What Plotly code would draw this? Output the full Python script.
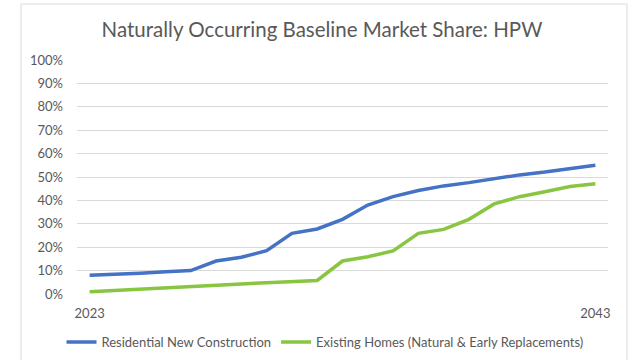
import plotly.graph_objects as go

# Projection years and market share (fraction of units) for each segment
years = list(range(2023, 2044))
new_construction = [0.080, 0.083, 0.089, 0.095, 0.100, 0.141, 0.157, 0.185, 0.259, 0.278,
                    0.319, 0.380, 0.416, 0.442, 0.462, 0.476, 0.493, 0.509, 0.521, 0.536, 0.550]
existing_homes = [0.010, 0.016, 0.021, 0.028, 0.034, 0.040, 0.043, 0.048, 0.054, 0.058,
                  0.141, 0.159, 0.184, 0.259, 0.276, 0.319, 0.385, 0.416, 0.437, 0.459, 0.471]
series_names = ["Residential New Construction", "Existing Homes (Natural & Early Replacements)"]
y_ticks = [i / 10 for i in range(11)]
x_ticks = [2023, 2043]

W, H = 633, 360
L, R, T, B = 77, 25, 60, 66
pw, ph = W - L - R, H - T - B

def px_x(p):
    return (p - L) / pw

def px_y(p):
    return (H - B - p) / ph

text_color = "#595959"
font_family = "Lato, 'Open Sans', sans-serif"

fig = go.Figure()
fig.add_trace(go.Scatter(x=years, y=new_construction, name=series_names[0], mode="lines",
                         line=dict(color="#4472C4", width=3.5)))
fig.add_trace(go.Scatter(x=years, y=existing_homes, name=series_names[1], mode="lines",
                         line=dict(color="#88C540", width=3.5)))

fig.update_layout(
    width=W, height=H, autosize=False,
    margin=dict(l=L, r=R, t=T, b=B, autoexpand=False),
    paper_bgcolor="white", plot_bgcolor="white",
    font=dict(family=font_family, color=text_color, size=13),
    title=dict(text="Naturally Occurring Baseline Market Share: HPW",
               x=322 / W, xanchor="center", xref="container",
               y=1 - 30 / H, yanchor="middle", yref="container",
               font=dict(size=20.5, color=text_color, family=font_family)),
    showlegend=True,
    legend=dict(orientation="h", x=px_x(325), xanchor="center", xref="paper",
                y=px_y(342), yanchor="middle",
                font=dict(size=13, color=text_color),
                bgcolor="rgba(0,0,0,0)", itemwidth=30, tracegroupgap=0),
    xaxis=dict(range=[2022.5, 2043.5], tickvals=x_ticks, ticktext=[str(v) for v in x_ticks],
               showgrid=False, zeroline=False, showline=False, ticks="",
               ticklabelstandoff=10, tickfont=dict(size=13, color=text_color)),
    yaxis=dict(range=[0, 1], tickvals=y_ticks, tickformat=".0%",
               showgrid=True, gridcolor="#D9D9D9", gridwidth=1,
               zeroline=False, showline=False, ticks="",
               ticklabelstandoff=13, tickfont=dict(size=13, color=text_color)),
)

# Chart area border
fig.add_shape(type="rect", xref="paper", yref="paper",
              x0=px_x(21), x1=px_x(627), y0=px_y(372), y1=px_y(4),
              line=dict(color="#D9D9D9", width=1), fillcolor="rgba(0,0,0,0)", layer="below")

fig.write_html("out.html")
